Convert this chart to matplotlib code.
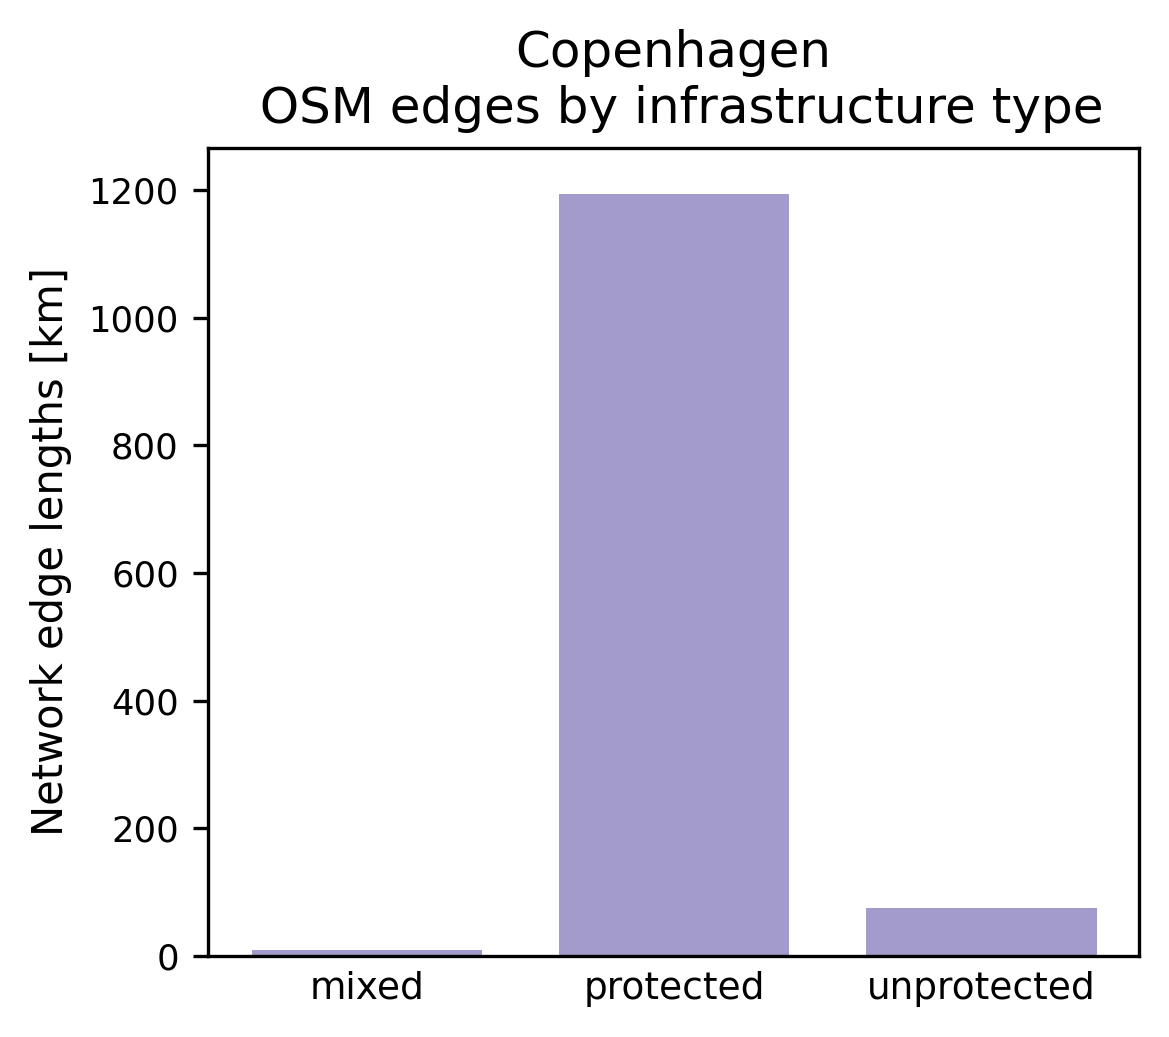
import matplotlib
matplotlib.use("Agg")
import matplotlib.pyplot as plt

categories = ["mixed", "protected", "unprotected"]
lengths_km = [9.4, 1194, 75.2]
title = "Copenhagen\n OSM edges by infrastructure type"
ylabel = "Network edge lengths [km]"

fig = plt.figure(figsize=(1169/300, 1037/300), dpi=300)
ax = fig.add_axes([208/1169, (1037-956)/1037, (1139-208)/1169, (956-148)/1037])
x = range(len(categories))
ax.bar(x, lengths_km, width=0.75, color="#a29bcb")
ax.set_xticks(list(x))
ax.set_xticklabels(categories, fontsize=9)
ax.tick_params(axis="x", length=0)
ax.tick_params(axis="y", labelsize=8.5)
ax.set_xlim(-0.517, 2.513)
ax.set_ylim(0, 1266)
ax.set_yticks([0, 200, 400, 600, 800, 1000, 1200])
ax.set_ylabel(ylabel, fontsize=10)
ax.set_title(title, fontsize=12)
fig.savefig("out.png", dpi=300)
